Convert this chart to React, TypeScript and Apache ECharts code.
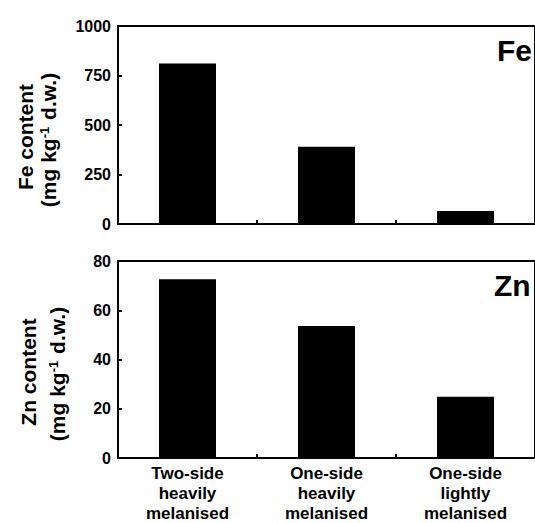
import React, { useEffect, useRef } from "react";
import * as echarts from "echarts";

// Categories of melanisation and measured metal contents
const categories = [
  "Two-side\nheavily\nmelanised",
  "One-side\nheavily\nmelanised",
  "One-side\nlightly\nmelanised",
];
const feValues = [810, 390, 66];
const znValues = [72.6, 53.6, 24.9];

const feTicks = { min: 0, max: 1000, interval: 250 };
const znTicks = { min: 0, max: 80, interval: 20 };

const FONT = "'Liberation Sans', Arial, Helvetica, sans-serif";

function yAxis(gridIndex: number, t: { min: number; max: number; interval: number }) {
  return {
    type: "value",
    gridIndex,
    min: t.min,
    max: t.max,
    interval: t.interval,
    splitLine: { show: false },
    axisLine: { show: true, lineStyle: { color: "#000", width: 2 } },
    axisTick: { show: true, inside: true, length: 4, lineStyle: { color: "#000", width: 2 } },
    axisLabel: {
      color: "#000",
      fontFamily: FONT,
      fontWeight: "bold",
      fontSize: 16,
      margin: 7,
      formatter: (v: number) => String(v),
    },
  };
}

function xAxis(gridIndex: number, showLabels: boolean) {
  return {
    type: "category",
    gridIndex,
    data: categories,
    axisLine: { show: true, lineStyle: { color: "#000", width: 2 } },
    axisTick: { show: true, inside: true, length: 4, lineStyle: { color: "#000", width: 2 } },
    axisLabel: {
      show: showLabels,
      color: "#000",
      fontFamily: FONT,
      fontWeight: "bold",
      fontSize: 17,
      lineHeight: 20,
      margin: 5,
      interval: 0,
    },
  };
}

function nameText(x: number, y: number, size: number, text: string) {
  return {
    type: "text",
    x,
    y,
    rotation: Math.PI / 2,
    style: {
      text,
      font: `bold ${size}px ${FONT}`,
      fill: "#000",
      align: "center",
      verticalAlign: "middle",
    },
  };
}

function unitName(x: number, y: number, size: number) {
  return {
    type: "text",
    x,
    y,
    rotation: Math.PI / 2,
    style: {
      text: "{a|(mg kg}{s|-1}{a| d.w.)}",
      align: "center",
      verticalAlign: "middle",
      rich: {
        a: { font: `bold ${size}px ${FONT}`, fill: "#000" },
        s: {
          font: `bold ${Math.round(size * 0.6)}px ${FONT}`,
          fill: "#000",
          verticalAlign: "top",
          padding: [0, 1, 8, 0],
        },
      },
    },
  };
}

function panelLabel(x: number, y: number, text: string) {
  return {
    type: "text",
    x,
    y,
    style: {
      text,
      font: `bold 30px ${FONT}`,
      fill: "#000",
      align: "left",
      verticalAlign: "middle",
    },
  };
}

export default function App() {
  const ref = useRef<HTMLDivElement>(null);

  useEffect(() => {
    if (!ref.current) return;
    const chart = echarts.init(ref.current, undefined, { renderer: "svg" });
    chart.setOption({
      animation: false,
      backgroundColor: "#fff",
      grid: [
        { left: 118, right: -9, top: 26, height: 198, show: true, borderColor: "#000", borderWidth: 2 },
        { left: 118, right: -9, top: 261, height: 197, show: true, borderColor: "#000", borderWidth: 2 },
      ],
      xAxis: [xAxis(0, false), xAxis(1, true)],
      yAxis: [yAxis(0, feTicks), yAxis(1, znTicks)],
      series: [
        {
          type: "bar",
          xAxisIndex: 0,
          yAxisIndex: 0,
          data: feValues,
          barWidth: 57,
          itemStyle: { color: "#000" },
        },
        {
          type: "bar",
          xAxisIndex: 1,
          yAxisIndex: 1,
          data: znValues,
          barWidth: 57,
          itemStyle: { color: "#000" },
        },
      ],
      graphic: [
        nameText(25, 137, 21, "Fe content"),
        unitName(48, 140, 21),
        nameText(28, 372, 21, "Zn content"),
        unitName(57, 374, 21),
        panelLabel(497, 50, "Fe"),
        panelLabel(494, 285, "Zn"),
      ],
    });
    return () => chart.dispose();
  }, []);

  return (
    <div
      ref={ref}
      style={{ position: "absolute", left: 0, top: 0, width: 535, height: 523 }}
    />
  );
}
